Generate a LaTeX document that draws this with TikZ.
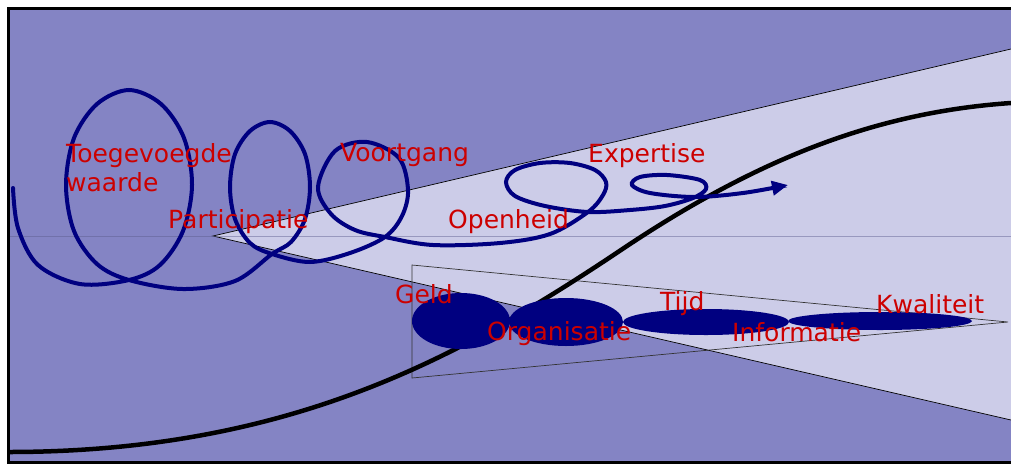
\documentclass[tikz,border=0pt]{standalone}
\usepackage{fontspec}
\newfontfamily\lblfont{DejaVu Sans}
\usetikzlibrary{arrows.meta}
\definecolor{bgp}{RGB}{132,132,196}
\definecolor{lightp}{RGB}{204,204,232}
\definecolor{navyb}{RGB}{0,0,128}
\definecolor{lblred}{RGB}{204,0,0}
\tikzset{
  lbl/.style={text=lblred, font=\lblfont\fontsize{25}{28}\selectfont, inner sep=0pt, anchor=base west},
  blob/.style={fill=navyb, draw=none},
  thinedge/.style={draw=black, line width=0.7pt},
  spiral/.style={draw=navyb, line width=4pt, line cap=round},
  scurve/.style={draw=black, line width=4.5pt}
}
\begin{document}
\begin{tikzpicture}[x=1pt,y=-1pt]
\useasboundingbox (0,0) rectangle (1011,464);
\fill[white] (0,0) rectangle (1011,464);
% background
\fill[bgp] (8.5,8.5) rectangle (1011,462);
% big light triangle
\fill[lightp] (213,236) -- (1011,49) -- (1011,420) -- cycle;
\coordinate (apex) at (213,236);
\coordinate (tr) at (1011,49);
\coordinate (br) at (1011,420);
\draw[thinedge] (tr) -- (apex) -- (br);
% horizontal faint line
\coordinate (hl) at (10,236);
\coordinate (hr) at (1011,236);
\draw[draw={rgb,255:red,90;green,90;blue,140}, opacity=0.45, line width=0.7pt] (hl) -- (hr);
% trapezoid
\coordinate (ttl) at (412,265);
\coordinate (tap) at (1008,322);
\coordinate (tbl) at (412,378);
\draw[thinedge, draw=black!80] (ttl) -- (tap) -- (tbl) -- cycle;
% S curve
\coordinate (s0) at (8,452);
\coordinate (s1) at (621,250);
\coordinate (s2) at (1011,103);
\draw[scurve] (s0) .. controls (290,452) and (461,357) .. (s1)
  .. controls (761,156) and (880,112) .. (s2);
% spiral
\draw[spiral, -{Triangle[length=16pt,width=14pt]}] plot[smooth, tension=0.55] coordinates {
 (13,188) (18,228) (38,265) (80,284) (129,280) (160,265) (183,231) (192,185)
 (184,138) (161,104) (129,90) (97,104) (74,138) (66,185) (74,231) (97,264)
 (129,280) (183,289) (235,281) (272,254) (291,242) (305,219) (310,187) (305,154)
 (290,131) (270,122) (250,131) (235,154) (230,187) (235,219) (250,243) (272,254)
 (310,262) (350,253) (385,237) (402,216) (408,190) (399,158) (367,142) (335,151)
 (318,187) (331,214) (355,230) (385,237) (433,245) (500,243) (550,234) (588,212)
 (603,195) (606,182) (595,170) (570,163) (540,163) (515,170) (506,182) (515,196)
 (545,206) (588,212) (630,210) (665,206) (693,198) (706,189) (700,180) (667,175)
 (640,177) (632,185) (650,193) (695,197) (743,193) (788,185)};
% ellipses
\fill[blob] (461,321) ellipse [x radius=49, y radius=28];
\fill[blob] (566,322) ellipse [x radius=57, y radius=24];
\fill[blob] (706,322) ellipse [x radius=83, y radius=13];
\fill[blob] (880,321) ellipse [x radius=92, y radius=9];
% border
\coordinate (b1) at (1011,8.5);
\coordinate (b2) at (8.5,8.5);
\coordinate (b3) at (8.5,462);
\coordinate (b4) at (1011,462);
\draw[black, line width=3pt] (b1) -- (b2) -- (b3) -- (b4);
% labels
\node[lbl] (toeg) at (66,162) {Toegevoegde};
\node[lbl] (waar) at (66,191) {waarde};
\node[lbl] (part) at (168,228) {Participatie};
\node[lbl] (voor) at (340,161) {Voortgang};
\node[lbl] (open) at (448,228) {Openheid};
\node[lbl] (expe) at (588,162) {Expertise};
\node[lbl] (geld) at (395,303) {Geld};
\node[lbl] (orga) at (487,340) {Organisatie};
\node[lbl] (tijd) at (660,310) {Tijd};
\node[lbl] (info) at (732,341) {Informatie};
\node[lbl] (kwal) at (876,313) {Kwaliteit};
\end{tikzpicture}
\end{document}
